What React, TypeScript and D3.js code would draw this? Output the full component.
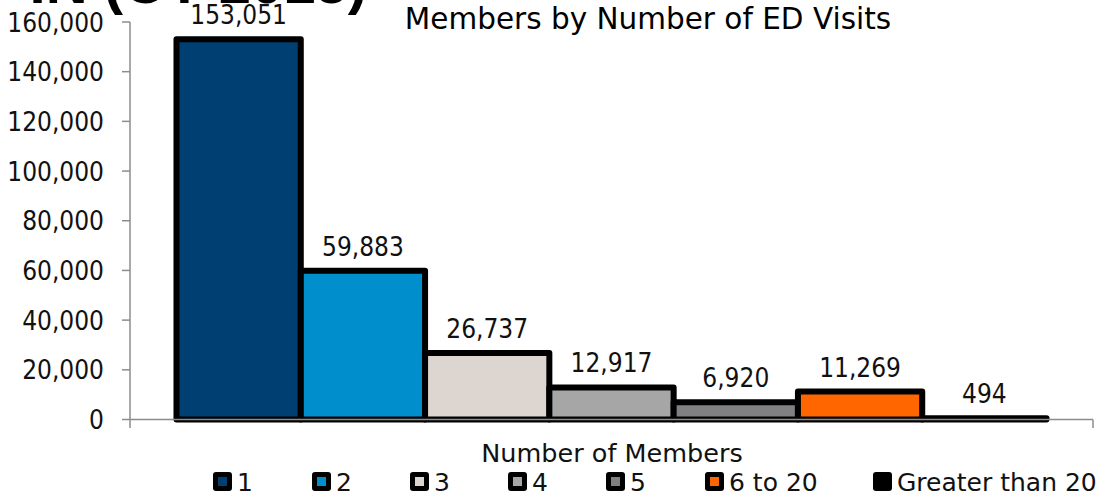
import React from "react";
import * as d3 from "d3";

const categories = ["1", "2", "3", "4", "5", "6 to 20", "Greater than 20"];
const values = [153051, 59883, 26737, 12917, 6920, 11269, 494];
const colors = ["#003F72", "#008FCC", "#DDD5CF", "#A6A6A6", "#808083", "#FF6600", "#000000"];
const yTicks = [0, 20000, 40000, 60000, 80000, 100000, 120000, 140000, 160000];
const legendX = [213, 312, 410, 508, 606, 705, 873];

const W = 1103;
const H = 496;
const NUM_FONT = "'DejaVu Sans Condensed', 'DejaVu Sans', sans-serif";
const TXT_FONT = "'DejaVu Sans', sans-serif";

export default function App() {
  const x = d3.scaleBand<string>().domain(categories).range([130, 1093]).paddingInner(0).paddingOuter(0.374);
  const y = d3.scaleLinear().domain([0, 160000]).range([419.5, 22]);
  const fmt = d3.format(",");
  const axisColor = "#8C8C8C";

  return (
    <svg width={W} height={H} style={{ position: "absolute", left: 0, top: 0, background: "#fff" }}>
      {/* cropped slide title behind chart */}
      <text x={367} y={3} textAnchor="end" fontFamily="'Liberation Sans', Arial, sans-serif" fontWeight="bold" fontSize={58} fill="#000">
        IN (CY 2015)
      </text>
      <text x={648} y={29} textAnchor="middle" fontFamily={TXT_FONT} fontSize={29.5} fill="#000">
        Members by Number of ED Visits
      </text>

      {/* bars */}
      {categories.map((c, i) => {
        const x0 = x(c)!;
        const top = y(values[i]);
        return (
          <rect key={c} x={x0} y={top} width={x.bandwidth()} height={y(0) - top}
            fill={colors[i]} stroke="#000" strokeWidth={6} strokeLinejoin="round" />
        );
      })}

      {/* y axis */}
      <line x1={130} x2={130} y1={y(160000)} y2={y(0)} stroke={axisColor} strokeWidth={1.5} />
      {yTicks.map((t) => (
        <g key={t}>
          <line x1={122} x2={130} y1={y(t)} y2={y(t)} stroke={axisColor} strokeWidth={1.5} />
          <text x={104} y={y(t)} dy="0.37em" textAnchor="end" fontFamily={NUM_FONT} fontSize={26} fill="#111">
            {fmt(t)}
          </text>
        </g>
      ))}

      {/* x axis */}
      <line x1={130} x2={1093} y1={y(0)} y2={y(0)} stroke={axisColor} strokeWidth={1.5} />
      <line x1={130} x2={130} y1={y(0)} y2={428} stroke={axisColor} strokeWidth={1.5} />
      <line x1={1093} x2={1093} y1={y(0)} y2={428} stroke={axisColor} strokeWidth={1.5} />

      {/* data labels */}
      {categories.map((c, i) => (
        <text key={c} x={x(c)! + x.bandwidth() / 2} y={y(values[i]) - 15} textAnchor="middle"
          fontFamily={NUM_FONT} fontSize={26} fill="#111">
          {fmt(values[i])}
        </text>
      ))}

      <text x={612} y={462} textAnchor="middle" fontFamily={TXT_FONT} fontSize={25.5} fill="#111">
        Number of Members
      </text>

      {/* legend */}
      {categories.map((c, i) => (
        <g key={c}>
          <rect x={legendX[i]} y={472} width={19} height={19} rx={3} fill="#000" />
          <rect x={legendX[i] + 5} y={477} width={9} height={9} fill={colors[i]} />
          <text x={legendX[i] + 24} y={491} fontFamily={TXT_FONT} fontSize={25} fill="#111">
            {c}
          </text>
        </g>
      ))}
    </svg>
  );
}
